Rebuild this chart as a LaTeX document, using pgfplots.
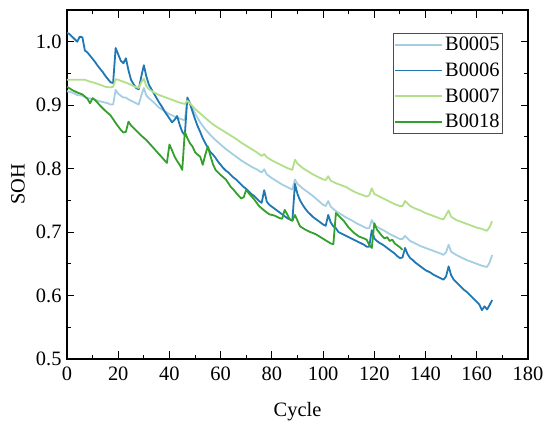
\documentclass[border=0pt]{standalone}
\usepackage{pgfplots}
\pgfplotsset{compat=1.18}
\usepackage{fontspec}
\setmainfont{Liberation Serif}
\definecolor{cA}{HTML}{A6CEE3}
\definecolor{cB}{HTML}{1F78B4}
\definecolor{cC}{HTML}{B2DF8A}
\definecolor{cD}{HTML}{33A02C}
\newcommand{\fs}{\fontsize{20.5}{23}\selectfont}
\begin{document}
\begin{tikzpicture}
\begin{axis}[
  scale only axis, width=461bp, height=349bp,
  xmin=0, xmax=180, ymin=0.5, ymax=1.05,
  xtick={0,20,40,60,80,100,120,140,160,180},
  ytick={0.5,0.6,0.7,0.8,0.9,1.0},
  minor x tick num=1, minor y tick num=1,
  tick align=inside,
  major tick length=7.5bp, minor tick length=4bp,
  every tick/.style={black, line width=1bp},
  axis line style={black, line width=1.3bp},
  /pgf/number format/assume math mode=true,
  tick label style={font=\fs},
  yticklabel style={/pgf/number format/fixed, /pgf/number format/fixed zerofill, /pgf/number format/precision=1, xshift=-2bp},
  xticklabel style={yshift=-4.5bp},
  xlabel={Cycle}, ylabel={SOH},
  label style={font=\fs},
  xlabel style={at={(axis description cs:0.5,0)}, anchor=base, yshift=-57bp},
  ylabel style={at={(axis description cs:-0.1063,0.5)}, anchor=center},
  legend style={at={(1,1)}, anchor=north east, xshift=-25bp, yshift=-23bp,
    draw=black!70, line width=0.8bp, font=\fs, inner xsep=1bp, inner ysep=2bp,
    row sep=6.5bp, cells={anchor=west}},
  legend image code/.code={\draw[line width=1.8bp,#1] (0bp,0bp) -- (47bp,0bp);},
  every axis plot/.append style={line width=1.8bp, line join=round},
]
\addplot[cA] coordinates {(0,0.922)(2,0.920)(4,0.916)(6,0.915)(8,0.911)(10,0.910)(12,0.907)(14,0.905)(16,0.903)(17,0.901)(18,0.901)(19,0.924)(20,0.918)(21,0.915)(22,0.912)(23,0.912)(24,0.909)(26,0.905)(28,0.901)(29,0.915)(30,0.927)(31,0.915)(32,0.911)(34,0.904)(36,0.896)(38,0.891)(40,0.886)(42,0.882)(44,0.879)(46,0.876)(47,0.909)(48,0.902)(50,0.887)(52,0.873)(54,0.862)(56,0.853)(58,0.845)(60,0.838)(62,0.831)(64,0.825)(66,0.819)(68,0.813)(70,0.808)(72,0.803)(74,0.799)(76,0.794)(77,0.799)(78,0.791)(80,0.785)(82,0.780)(84,0.775)(86,0.771)(88,0.767)(89,0.783)(90,0.776)(92,0.769)(94,0.763)(96,0.757)(98,0.750)(100,0.743)(101,0.741)(102,0.749)(103,0.740)(105,0.733)(107,0.728)(109,0.723)(111,0.719)(113,0.714)(115,0.710)(117,0.706)(118,0.706)(119,0.719)(120,0.711)(122,0.706)(124,0.702)(126,0.697)(128,0.693)(130,0.689)(131,0.689)(132,0.694)(134,0.686)(136,0.682)(138,0.678)(140,0.675)(142,0.672)(144,0.669)(146,0.666)(147,0.664)(148,0.668)(149,0.680)(150,0.669)(152,0.664)(154,0.660)(156,0.656)(158,0.653)(160,0.650)(162,0.647)(164,0.645)(165,0.652)(166,0.664)};
\addlegendentry{B0005}
\addplot[cB] coordinates {(0,1.014)(1,1.012)(2,1.008)(3,1.004)(4,1.000)(5,1.008)(6,1.007)(7,0.986)(8,0.983)(9,0.978)(10,0.973)(11,0.968)(12,0.962)(13,0.957)(14,0.952)(15,0.946)(16,0.941)(17,0.936)(18,0.935)(19,0.990)(20,0.980)(21,0.970)(22,0.966)(23,0.974)(24,0.955)(25,0.940)(26,0.933)(27,0.927)(28,0.925)(29,0.945)(30,0.963)(31,0.945)(32,0.932)(33,0.925)(34,0.918)(35,0.911)(36,0.904)(37,0.898)(38,0.891)(39,0.885)(40,0.879)(41,0.873)(42,0.877)(43,0.883)(44,0.869)(45,0.858)(46,0.853)(47,0.912)(48,0.903)(49,0.890)(50,0.878)(51,0.867)(52,0.858)(53,0.848)(54,0.840)(55,0.833)(56,0.826)(57,0.822)(58,0.817)(59,0.811)(60,0.806)(61,0.801)(62,0.797)(63,0.794)(64,0.790)(65,0.786)(66,0.783)(67,0.779)(68,0.775)(69,0.771)(70,0.768)(71,0.764)(72,0.760)(73,0.757)(74,0.753)(75,0.749)(76,0.746)(77,0.766)(78,0.748)(79,0.743)(80,0.740)(81,0.737)(82,0.734)(83,0.731)(84,0.728)(85,0.725)(86,0.722)(87,0.720)(88,0.718)(89,0.776)(90,0.760)(91,0.750)(92,0.743)(93,0.737)(94,0.732)(95,0.728)(96,0.724)(97,0.721)(98,0.718)(99,0.715)(100,0.712)(101,0.710)(102,0.727)(103,0.715)(104,0.709)(105,0.706)(106,0.700)(107,0.698)(108,0.696)(109,0.694)(110,0.692)(111,0.690)(112,0.688)(113,0.686)(114,0.684)(115,0.682)(116,0.680)(117,0.677)(118,0.677)(119,0.703)(120,0.690)(121,0.686)(122,0.683)(123,0.681)(124,0.678)(125,0.675)(126,0.672)(127,0.669)(128,0.666)(129,0.662)(130,0.659)(131,0.660)(132,0.675)(133,0.665)(134,0.659)(135,0.656)(136,0.652)(137,0.649)(138,0.646)(139,0.643)(140,0.640)(141,0.638)(142,0.636)(143,0.633)(144,0.631)(145,0.629)(146,0.627)(147,0.625)(148,0.630)(149,0.646)(150,0.632)(151,0.625)(152,0.621)(153,0.617)(154,0.613)(155,0.609)(156,0.606)(157,0.602)(158,0.598)(159,0.594)(160,0.590)(161,0.586)(162,0.577)(163,0.583)(164,0.578)(165,0.585)(166,0.593)};
\addlegendentry{B0006}
\addplot[cC] coordinates {(0,0.940)(4,0.940)(7,0.940)(9,0.937)(11,0.935)(13,0.932)(15,0.929)(17,0.928)(18,0.929)(19,0.941)(20,0.940)(22,0.937)(24,0.934)(26,0.930)(28,0.927)(29,0.936)(30,0.942)(31,0.930)(32,0.925)(34,0.920)(36,0.916)(38,0.913)(40,0.910)(42,0.907)(44,0.904)(46,0.902)(47,0.907)(48,0.903)(50,0.894)(52,0.887)(54,0.880)(56,0.873)(58,0.867)(60,0.862)(62,0.857)(64,0.852)(66,0.847)(68,0.841)(70,0.836)(72,0.831)(74,0.826)(76,0.820)(77,0.823)(78,0.818)(80,0.813)(82,0.809)(84,0.805)(86,0.801)(88,0.798)(89,0.814)(90,0.808)(92,0.801)(94,0.796)(96,0.791)(98,0.787)(100,0.783)(101,0.782)(102,0.788)(103,0.781)(105,0.777)(107,0.774)(109,0.771)(111,0.766)(113,0.762)(115,0.759)(117,0.756)(118,0.758)(119,0.769)(120,0.760)(122,0.756)(124,0.752)(126,0.748)(128,0.744)(130,0.741)(131,0.741)(132,0.749)(134,0.741)(136,0.737)(138,0.734)(140,0.730)(142,0.727)(144,0.724)(146,0.721)(147,0.720)(148,0.727)(149,0.734)(150,0.724)(152,0.719)(154,0.716)(156,0.713)(158,0.710)(160,0.707)(162,0.705)(164,0.702)(165,0.708)(166,0.717)};
\addlegendentry{B0007}
\addplot[cD] coordinates {(0,0.929)(2,0.924)(4,0.920)(6,0.917)(8,0.910)(9,0.903)(10,0.911)(11,0.908)(13,0.899)(15,0.891)(17,0.884)(19,0.872)(21,0.861)(22,0.857)(23,0.858)(24,0.874)(25,0.868)(27,0.860)(29,0.852)(31,0.845)(33,0.836)(35,0.827)(37,0.818)(39,0.809)(40,0.838)(41,0.829)(42,0.819)(43,0.812)(44,0.806)(45,0.798)(46,0.858)(47,0.848)(48,0.840)(49,0.835)(50,0.826)(51,0.822)(52,0.819)(53,0.806)(54,0.822)(55,0.835)(56,0.820)(57,0.807)(58,0.798)(60,0.790)(62,0.783)(64,0.771)(65,0.767)(66,0.762)(68,0.753)(69,0.755)(70,0.767)(71,0.761)(73,0.752)(75,0.741)(77,0.734)(79,0.728)(81,0.726)(83,0.722)(84,0.721)(85,0.735)(86,0.728)(87,0.720)(88,0.718)(89,0.727)(90,0.718)(91,0.709)(93,0.704)(95,0.700)(97,0.697)(99,0.692)(101,0.687)(103,0.682)(104,0.681)(105,0.730)(106,0.726)(108,0.718)(110,0.707)(112,0.699)(114,0.693)(116,0.690)(117,0.688)(118,0.680)(119,0.675)(120,0.714)(121,0.704)(122,0.699)(123,0.694)(124,0.690)(125,0.692)(126,0.686)(127,0.688)(128,0.682)(130,0.676)(131,0.672)};
\addlegendentry{B0018}
\coordinate (SW) at (rel axis cs:0,0);
\coordinate (NE) at (rel axis cs:1,1);
\end{axis}
\pgfresetboundingbox
\path ([shift={(-67bp,-69bp)}]SW) rectangle ([shift={(22bp,10bp)}]NE);
\end{tikzpicture}
\end{document}
